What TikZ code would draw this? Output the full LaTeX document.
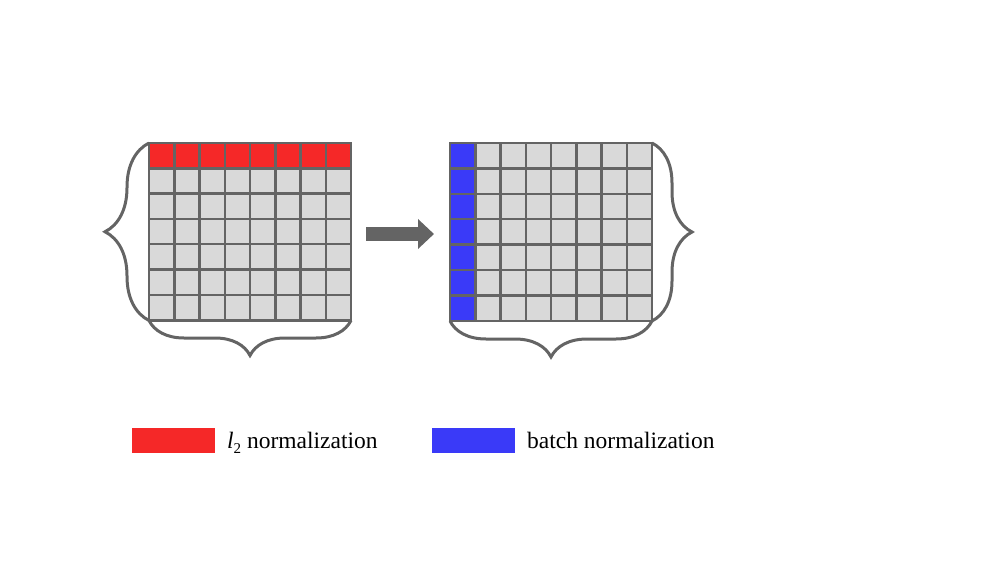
\documentclass[tikz,border=0pt]{standalone}
\usepackage{fontspec}
\setmainfont{Liberation Serif}
\usetikzlibrary{decorations.pathreplacing,arrows.meta}
\definecolor{gridline}{HTML}{646464}
\definecolor{cellgrey}{HTML}{D9D9D9}
\definecolor{redcell}{HTML}{F52828}
\definecolor{bluecell}{HTML}{3A3AF8}
\tikzset{
  cell/.style={draw=gridline, line width=2.5pt, inner sep=0pt, outer sep=0pt,
    minimum width=25.25pt, minimum height=25.3pt, anchor=north west},
  gridframe/.style={draw=gridline, line width=2.8pt, inner sep=0pt, outer sep=0pt,
    minimum width=202pt, minimum height=177.5pt, anchor=north west},
  bracestyle/.style={draw=gridline, line width=3pt, decorate},
  bigarrow/.style={draw=gridline, line width=14pt, -{Triangle[length=16pt,width=29pt]}},
  keybox/.style={inner sep=0pt, outer sep=0pt, minimum width=83pt, minimum height=25pt, anchor=north west},
  keytext/.style={inner sep=0pt, anchor=base west, font=\fontsize{23.5}{28}\selectfont}
}
\begin{document}
\begin{tikzpicture}[x=1pt,y=-1pt]
\useasboundingbox (0,0) rectangle (992,567);
% left grid
\foreach \r in {0,...,6}{\foreach \c in {0,...,7}{
  \pgfmathsetmacro{\xx}{149+\c*25.25}
  \pgfmathsetmacro{\yy}{143+\r*25.3}
  \ifnum\r=0 \def\fc{redcell}\else\def\fc{cellgrey}\fi
  \node[cell, fill=\fc] (L-\r-\c) at (\xx,\yy) {};
}}
\node[gridframe] (leftgrid) at (149,143) {};
% right grid
\foreach \r in {0,...,6}{\foreach \c in {0,...,7}{
  \pgfmathsetmacro{\xx}{450+\c*25.25}
  \pgfmathsetmacro{\yy}{143+\r*25.4}
  \ifnum\c=0 \def\fc{bluecell}\else\def\fc{cellgrey}\fi
  \node[cell, fill=\fc, minimum height=25.4pt] (R-\r-\c) at (\xx,\yy) {};
}}
\node[gridframe, minimum height=178pt] (rightgrid) at (450,143) {};
% braces
\draw[bracestyle, decoration={brace, amplitude=44pt}] (leftgrid.south west) -- (leftgrid.north west);
\draw[bracestyle, decoration={brace, amplitude=35pt}] (leftgrid.south east) -- (leftgrid.south west);
\draw[bracestyle, decoration={brace, amplitude=40pt}] (rightgrid.north east) -- (rightgrid.south east);
\draw[bracestyle, decoration={brace, amplitude=36pt}] (rightgrid.south east) -- (rightgrid.south west);
% arrow
\coordinate (astart) at (366,234);
\coordinate (aend) at (434,234);
\draw[bigarrow] (astart) -- (aend);
% legend
\node[keybox, fill=redcell] (redkey) at (132,428) {};
\node[keytext] (redlabel) at ([xshift=12pt, yshift=-7.5pt]redkey.east)
  {\textit{l}\raisebox{-5pt}{\fontsize{15}{15}\selectfont 2}\ normalization};
\node[keybox, fill=bluecell] (bluekey) at (432,428) {};
\node[keytext] (bluelabel) at ([xshift=12pt, yshift=-7.5pt]bluekey.east) {batch normalization};
\end{tikzpicture}
\end{document}
